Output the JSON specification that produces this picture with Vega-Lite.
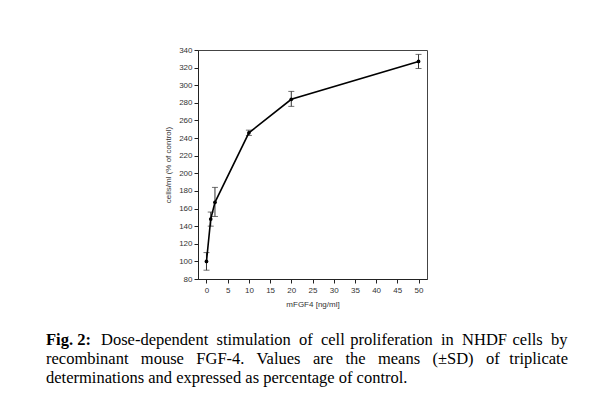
{
  "$schema": "https://vega.github.io/schema/vega-lite/v6.json",
  "autosize": {"type": "none"},
  "padding": {"left": 198, "top": 50, "right": 173, "bottom": 116},
  "width": 229,
  "height": 229,
  "background": "white",
  "data": {"values": [
    {"dose": 0, "mean": 100, "lo": 90, "hi": 110},
    {"dose": 1, "mean": 148, "lo": 140, "hi": 156},
    {"dose": 2, "mean": 167, "lo": 151, "hi": 184},
    {"dose": 10, "mean": 246, "lo": 243, "hi": 249},
    {"dose": 20, "mean": 284, "lo": 276, "hi": 293},
    {"dose": 50, "mean": 327, "lo": 319, "hi": 335}
  ]},
  "title": {
    "text": "Fig. 2:",
    "subtitle": [
      "\u200b\u00a0\u00a0\u00a0\u00a0\u00a0\u00a0\u00a0\u00a0\u00a0\u00a0\u00a0\u00a0\u00a0\u200aDose-dependent\u00a0 stimulation\u00a0 of\u00a0 cell\u200a proliferation\u00a0 in\u00a0 NHDF\u200a cells\u00a0 by",
      "recombinant\u00a0\u00a0 mouse\u00a0\u00a0 FGF-4.\u00a0\u00a0 Values\u00a0\u00a0 are\u00a0\u00a0 the\u00a0\u00a0 means\u00a0\u00a0 (±SD)\u00a0\u00a0 of\u00a0\u200a triplicate",
      "determinations and expressed as percentage of control."
    ],
    "orient": "bottom",
    "anchor": "start",
    "frame": "group",
    "dx": -152,
    "offset": 24,
    "font": "Liberation Serif",
    "fontSize": 16.5,
    "fontWeight": "bold",
    "color": "black",
    "subtitleFont": "Liberation Serif",
    "subtitleFontSize": 16.5,
    "subtitleColor": "black",
    "subtitleLineHeight": 19,
    "subtitlePadding": -16.5
  },
  "config": {
    "view": {"stroke": "#444", "strokeWidth": 1},
    "axis": {
      "grid": false,
      "domainColor": "#222",
      "tickColor": "#222",
      "tickSize": 4,
      "labelFont": "Liberation Sans",
      "labelFontSize": 8,
      "labelColor": "#333",
      "labelOverlap": false,
      "titleFont": "Liberation Sans",
      "titleFontSize": 8,
      "titleFontWeight": "normal",
      "titleColor": "#333"
    }
  },
  "encoding": {
    "x": {
      "field": "dose", "type": "quantitative",
      "scale": {"domain": [-2, 52], "nice": false, "zero": false},
      "axis": {"values": [0, 5, 10, 15, 20, 25, 30, 35, 40, 45, 50], "title": "mFGF4 [ng/ml]", "titlePadding": 6, "labelPadding": 3}
    },
    "y": {
      "field": "mean", "type": "quantitative",
      "scale": {"domain": [80, 340], "nice": false, "zero": false},
      "axis": {"values": [80, 100, 120, 140, 160, 180, 200, 220, 240, 260, 280, 300, 320, 340], "title": "cells/ml (% of control)", "titlePadding": 6, "labelPadding": 2}
    }
  },
  "layer": [
    {
      "mark": {"type": "errorbar", "ticks": {"size": 6}, "color": "#333", "thickness": 1},
      "encoding": {
        "y": {"field": "lo", "type": "quantitative",
          "scale": {"domain": [80, 340], "nice": false, "zero": false},
          "axis": {"values": [80, 100, 120, 140, 160, 180, 200, 220, 240, 260, 280, 300, 320, 340], "title": "cells/ml (% of control)", "titlePadding": 6, "labelPadding": 2}},
        "y2": {"field": "hi"}
      }
    },
    {
      "mark": {"type": "line", "color": "black", "strokeWidth": 1.6}
    },
    {
      "mark": {"type": "point", "filled": true, "color": "black", "size": 14, "opacity": 1}
    }
  ]
}
